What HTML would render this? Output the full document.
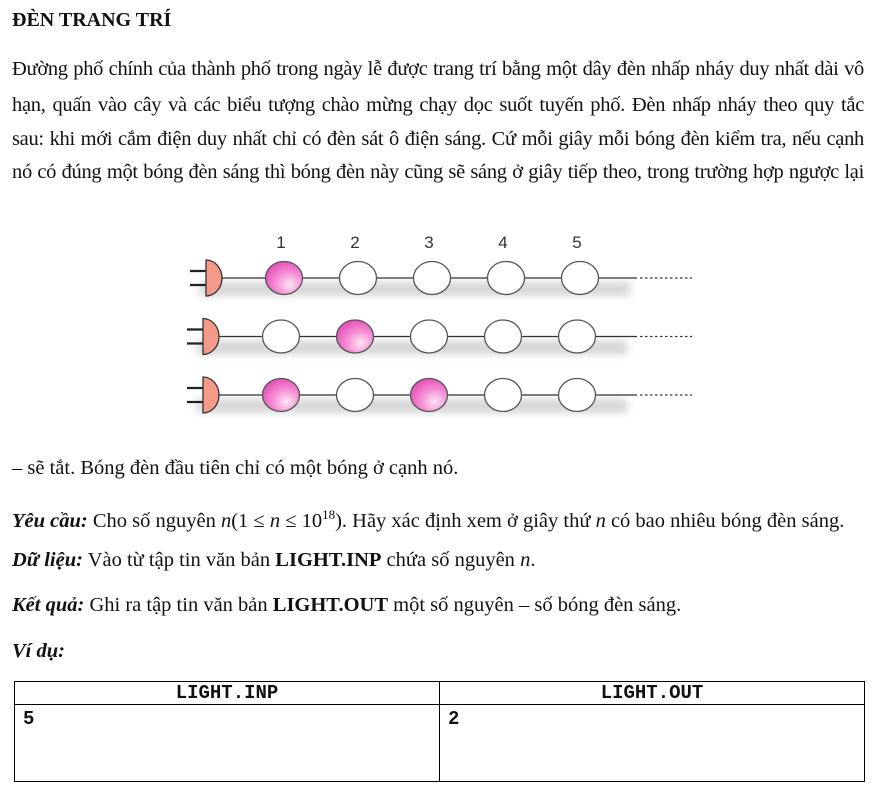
<!DOCTYPE html>
<html><head><meta charset="utf-8">
<style>
body{margin:0;background:#fff;width:874px;height:785px;position:relative;overflow:hidden;font-family:"Liberation Serif","Times New Roman",serif;font-size:20.5px;color:#111}
.l{position:absolute;left:12px;width:852px;white-space:nowrap;line-height:22px}
.j{text-align:justify;text-align-last:justify;white-space:normal;letter-spacing:-0.3px}
.mono{font-family:"Liberation Mono",monospace;font-weight:bold;font-size:19px}
table{position:absolute;left:14px;top:681px;width:851px;height:101px;border-collapse:collapse}
td{border:1.3px solid #000;padding:0 8px;vertical-align:top}
</style></head><body>
<div class="l" style="top:9px;font-weight:bold;font-size:20px">ĐÈN TRANG TRÍ</div>
<div class="l j" style="top:58px">Đường phố chính của thành phố trong ngày lễ được trang trí bằng một dây đèn nhấp nháy duy nhất dài vô</div>
<div class="l j" style="top:94px">hạn, quấn vào cây và các biểu tượng chào mừng chạy dọc suốt tuyến phố. Đèn nhấp nháy theo quy tắc</div>
<div class="l j" style="top:128px">sau: khi mới cắm điện duy nhất chỉ có đèn sát ô điện sáng. Cứ mỗi giây mỗi bóng đèn kiểm tra, nếu cạnh</div>
<div class="l j" style="top:161px">nó có đúng một bóng đèn sáng thì bóng đèn này cũng sẽ sáng ở giây tiếp theo, trong trường hợp ngược lại</div>

<svg id="fig" style="position:absolute;left:0;top:0" width="874" height="440">
<defs>
<radialGradient id="pink" cx="0.65" cy="0.7" r="0.75"><stop offset="0" stop-color="#fde6f4"/><stop offset="0.5" stop-color="#f68bd4"/><stop offset="1" stop-color="#e04fb5"/></radialGradient>
<filter id="sh" x="-50%" y="-50%" width="200%" height="200%"><feGaussianBlur stdDeviation="4"/></filter>
</defs>
</svg>

<div class="l" style="top:457px">– sẽ tắt. Bóng đèn đầu tiên chỉ có một bóng ở cạnh nó.</div>
<div class="l" style="top:504px"><b><i>Yêu cầu:</i></b> Cho số nguyên <i>n</i>(1 ≤ <i>n</i> ≤ 10<sup style="font-size:13px">18</sup>). Hãy xác định xem ở giây thứ <i>n</i> có bao nhiêu bóng đèn sáng.</div>
<div class="l" style="top:549px"><b><i>Dữ liệu:</i></b> Vào từ tập tin văn bản <b>LIGHT.INP</b> chứa số nguyên <i>n</i>.</div>
<div class="l" style="top:594px"><b><i>Kết quả:</i></b> Ghi ra tập tin văn bản <b>LIGHT.OUT</b> một số nguyên – số bóng đèn sáng.</div>
<div class="l" style="top:640px"><b><i>Ví dụ:</i></b></div>

<table>
<tr style="height:22px"><td class="mono" style="text-align:center;width:50%;vertical-align:middle">LIGHT.INP</td><td class="mono" style="text-align:center;vertical-align:middle">LIGHT.OUT</td></tr>
<tr><td class="mono" style="padding-top:3px">5</td><td class="mono" style="padding-top:3px">2</td></tr>
</table>

<script>
const bulbLabels=["1","2","3","4","5"];
const row1=[1,0,0,0,0];
const row2=[0,1,0,0,0];
const row3=[1,0,1,0,0];
const rows=[row1,row2,row3];
const NS="http://www.w3.org/2000/svg";
const svg=document.getElementById('fig');
const rowY=i=>278+i*58.5;
const colX=j=>284+j*74;
function mk(t,a){const e=document.createElementNS(NS,t);for(const k in a)e.setAttribute(k,a[k]);svg.appendChild(e);return e;}
bulbLabels.forEach((s,j)=>{
  const t=mk('text',{x:colX(j)-3,y:248,'text-anchor':'middle','font-family':'Liberation Sans,sans-serif','font-size':'17',fill:'#333'});
  t.textContent=s;
  
  
});
rows.forEach((r,i)=>{
  const y=rowY(i);
  const ox=-(i===0?0:3);
  mk('rect',{x:200+ox,y:y+4,width:430,height:14,fill:'#999',opacity:0.4,filter:'url(#sh)'});
  mk('line',{x1:222+ox,y1:y,x2:637,y2:y,stroke:'#333','stroke-width':1.3});
  mk('line',{x1:640,y1:y,x2:692,y2:y,stroke:'#333','stroke-width':1.3,'stroke-dasharray':'2.5,2.5'});
  mk('line',{x1:190+ox,y1:y-7,x2:207+ox,y2:y-7,stroke:'#222','stroke-width':2.2});
  mk('line',{x1:190+ox,y1:y+7,x2:207+ox,y2:y+7,stroke:'#222','stroke-width':2.2});
  const p=mk('path',{d:`M${206+ox},${y-18} A16,18 0 0 1 ${206+ox},${y+18} Z`,fill:'#f59a8a',stroke:'#333','stroke-width':1.3});
  
  
  r.forEach((on,j)=>{
    const c=mk('ellipse',{cx:colX(j)+ox,cy:y,rx:18.5,ry:16.5,fill:on?'url(#pink)':'#fff',stroke:'#555','stroke-width':1.3});
    
    
  });
});
</script>
</body></html>
